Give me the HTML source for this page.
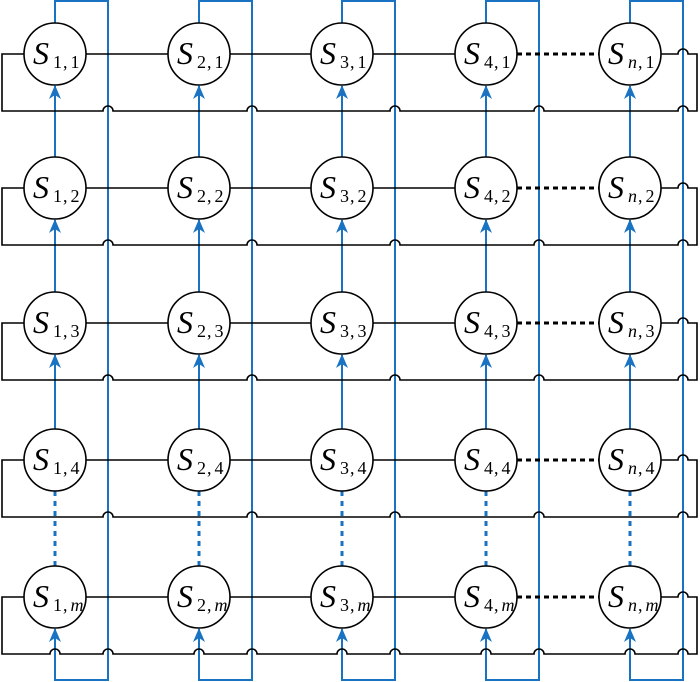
<!DOCTYPE html>
<html><head><style>body{margin:0;background:#fff}svg{display:block}</style></head><body>
<svg width="700" height="682" xmlns="http://www.w3.org/2000/svg" font-family="Liberation Serif, serif">
<defs><marker id="a" markerWidth="14" markerHeight="12" refX="13" refY="6" orient="auto" markerUnits="userSpaceOnUse" viewBox="0 0 14 12"><path d="M0,0 L14,6 L0,12 L4,6 Z" fill="#1a73c2"/></marker></defs>
<g id="g"></g>
</svg>
<script>
const X=[55,199,342,486,630],Y=[54,188,323,460,597],R=31,B="#1a73c2";
const subs=["1","2","3","4","n"],rs=["1","2","3","4","m"];
let s="";
function bumpLine(y,x0,x1,bx){bx=bx.slice().sort((a,b)=>a-b);let d=`M${x0},${y}`;for(const b of bx){d+=` L${b-5},${y} A5,5 0 0 1 ${b+5},${y}`;}d+=` L${x1},${y}`;return d;}
for(let i=0;i<5;i++){const x=X[i],bx=x+53;
s+=`<path d="M${x},${Y[0]-R} L${x},1 L${bx},1 L${bx},680 L${x},680 L${x},${Y[4]+R+1}" fill="none" stroke="${B}" stroke-width="2" marker-end="url(#a)"/>`;
for(let r=0;r<3;r++)s+=`<line x1="${x}" y1="${Y[r+1]-R}" x2="${x}" y2="${Y[r]+R+1}" stroke="${B}" stroke-width="2" marker-end="url(#a)"/>`;
s+=`<line x1="${x}" y1="${Y[4]-R}" x2="${x}" y2="${Y[3]+R}" stroke="${B}" stroke-width="3" stroke-dasharray="5,5"/>`;}
const BX=X.map(x=>x+53);
for(let r=0;r<5;r++){const y=Y[r],yb=y+57;
let bx=BX.slice();if(r==4)bx=bx.concat(X);
s+=`<path d="M${X[0]-R},${y} L2,${y} L2,${yb} ${bumpLine(yb,2,697,bx).replace(/^M[^L]*/,'')} L697,${y} L${BX[4]+5},${y} A5,5 0 0 0 ${BX[4]-5},${y} L${X[4]+R},${y}" fill="none" stroke="#000" stroke-width="1.6"/>`;
for(let i=0;i<3;i++)s+=`<line x1="${X[i]+R}" y1="${y}" x2="${X[i+1]-R}" y2="${y}" stroke="#000" stroke-width="1.6"/>`;
s+=`<line x1="${X[3]+R}" y1="${y}" x2="${X[4]-R}" y2="${y}" stroke="#000" stroke-width="3" stroke-dasharray="5,4"/>`;
for(let i=0;i<5;i++){const a=subs[i],b=rs[r];
const f=t=>/[nm]/.test(t)?`<tspan font-style="italic">${t}</tspan>`:t;
s+=`<circle cx="${X[i]}" cy="${y}" r="${R}" fill="#fff" stroke="#000" stroke-width="1.6"/>`;
s+=`<text x="${X[i]-22}" y="${y+10}" font-size="32" font-style="italic">S</text><text x="${X[i]-2}" y="${y+14}" font-size="18">${f(a)}<tspan dx="1">,</tspan><tspan dx="3">${f(b)}</tspan></text>`;}}
document.getElementById("g").innerHTML=s;
</script>
</body></html>
